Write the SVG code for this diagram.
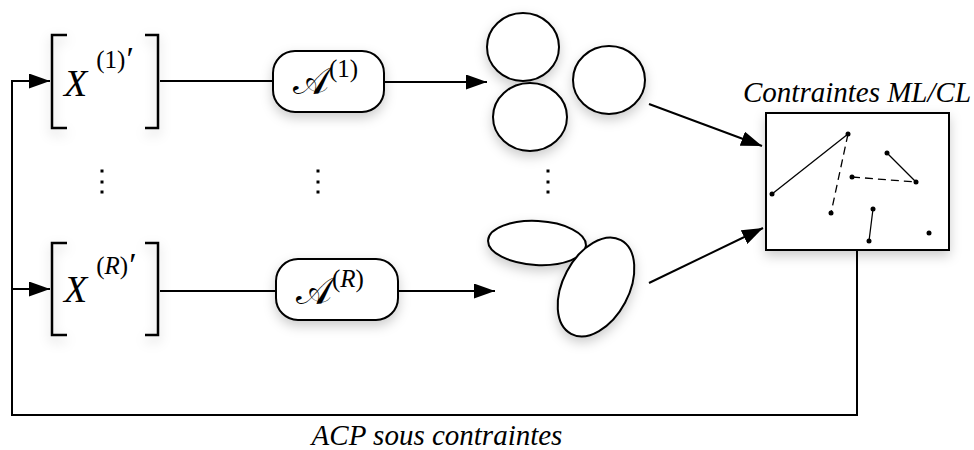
<svg xmlns="http://www.w3.org/2000/svg" width="974" height="450" viewBox="0 0 974 450">
<style>
.ln{fill:none;stroke:#000;stroke-width:2}
.br{fill:none;stroke:#000;stroke-width:2.5}
.shape{fill:#fff;stroke:#000;stroke-width:2}
.dot{fill:#000}
.m{font-family:"Liberation Serif","DejaVu Serif",serif;fill:#000}
.it{font-style:italic}
.lbl{font-family:"Liberation Serif","DejaVu Serif",serif;font-style:italic;font-size:29px;fill:#000}
.thin{stroke:#000;stroke-width:1.3;fill:none}
.dash{stroke:#000;stroke-width:1.3;fill:none;stroke-dasharray:8 5}
</style>
<defs>
<filter id="sh" x="-30%" y="-30%" width="160%" height="170%">
<feDropShadow dx="0" dy="5" stdDeviation="6" flood-color="#000" flood-opacity="0.2"/>
</filter>
<marker id="ah" markerUnits="userSpaceOnUse" viewBox="0 0 21 15" refX="21" refY="7.5" markerWidth="21" markerHeight="15" orient="auto">
<path d="M0,0 L21,7.5 L0,15 z" fill="#000"/>
</marker>
</defs>

<g id="connectors">
<path class="ln" d="M857,250 V415 H12 V81 H50" marker-end="url(#ah)"/>
<path class="ln" d="M12,289 H50" marker-end="url(#ah)"/>
<path class="ln" d="M160,81 H273"/>
<path class="ln" d="M160,291 H276"/>
<path class="ln" d="M384,82 H487" marker-end="url(#ah)"/>
<path class="ln" d="M398,291 H495" marker-end="url(#ah)"/>
<path class="ln" d="M649,104 L762,146" marker-end="url(#ah)"/>
<path class="ln" d="M649,283 L763,228" marker-end="url(#ah)"/>
</g>

<g id="x1">
<g filter="url(#sh)">
<path class="br" d="M67,35 H52 V128 H67"/>
<path class="br" d="M145,35 H158 V128 H145"/>
</g>
<text class="m" x="64" y="96" font-size="38"><tspan class="it">X</tspan><tspan font-size="25" dx="9" dy="-28">(1)</tspan><tspan font-size="34" dx="1" dy="2">′</tspan></text>
</g>

<g id="xR">
<g filter="url(#sh)">
<path class="br" d="M67,243 H52 V335 H67"/>
<path class="br" d="M145,243 H158 V335 H145"/>
</g>
<text class="m" x="64" y="302" font-size="38"><tspan class="it">X</tspan><tspan font-size="25" dx="9" dy="-28">(<tspan class="it">R</tspan>)</tspan><tspan font-size="34" dx="1" dy="2">′</tspan></text>
</g>

<g id="a1">
<rect class="shape" x="273" y="51" width="111" height="61" rx="22" filter="url(#sh)"/>
<text class="m" x="293" y="94" font-size="38"><tspan>𝒜</tspan><tspan font-size="25" dx="0" dy="-17">(1)</tspan></text>
</g>

<g id="aR">
<rect class="shape" x="276" y="259" width="122" height="61" rx="22" filter="url(#sh)"/>
<text class="m" x="296" y="304" font-size="38"><tspan>𝒜</tspan><tspan font-size="25" dx="0" dy="-17">(<tspan class="it">R</tspan>)</tspan></text>
</g>

<g id="clusters1" filter="url(#sh)">
<ellipse class="shape" cx="523" cy="47" rx="36" ry="34"/>
<ellipse class="shape" cx="530" cy="117" rx="37" ry="34"/>
<ellipse class="shape" cx="609" cy="80" rx="36" ry="34"/>
</g>

<g id="clustersR" filter="url(#sh)">
<ellipse class="shape" cx="537" cy="243" rx="49" ry="22" transform="rotate(3 537 243)"/>
<ellipse class="shape" cx="596" cy="287" rx="53" ry="33" transform="rotate(-62 596 287)"/>
</g>

<g id="dots">
<rect class="dot" x="100.5" y="169.5" width="3" height="3"/>
<rect class="dot" x="100.5" y="180.5" width="3" height="3"/>
<rect class="dot" x="100.5" y="190.5" width="3" height="3"/>
<rect class="dot" x="316.5" y="169.5" width="3" height="3"/>
<rect class="dot" x="316.5" y="180.5" width="3" height="3"/>
<rect class="dot" x="316.5" y="190.5" width="3" height="3"/>
<rect class="dot" x="546.5" y="169.5" width="3" height="3"/>
<rect class="dot" x="546.5" y="180.5" width="3" height="3"/>
<rect class="dot" x="546.5" y="190.5" width="3" height="3"/>
</g>

<g id="constraints">
<rect class="shape" x="766" y="113" width="183" height="137" filter="url(#sh)"/>
<line class="thin" x1="772" y1="194" x2="848" y2="134"/>
<line class="dash" x1="848" y1="134" x2="831" y2="213"/>
<line class="thin" x1="887" y1="153" x2="916" y2="182"/>
<line class="dash" x1="852" y1="177" x2="916" y2="182"/>
<line class="thin" x1="873" y1="209" x2="869" y2="241"/>
<g class="dot">
<circle cx="772" cy="194" r="2.5"/>
<circle cx="848" cy="134" r="2.5"/>
<circle cx="831" cy="213" r="2.5"/>
<circle cx="887" cy="153" r="2.5"/>
<circle cx="852" cy="177" r="2.5"/>
<circle cx="916" cy="182" r="2.5"/>
<circle cx="873" cy="209" r="2.5"/>
<circle cx="869" cy="241" r="2.5"/>
<circle cx="929" cy="233" r="2.5"/>
</g>
<text class="lbl" x="743" y="102">Contraintes ML/CL</text>
</g>

<g id="acp">
<text class="lbl" x="437" y="445" text-anchor="middle">ACP sous contraintes</text>
</g>
</svg>
